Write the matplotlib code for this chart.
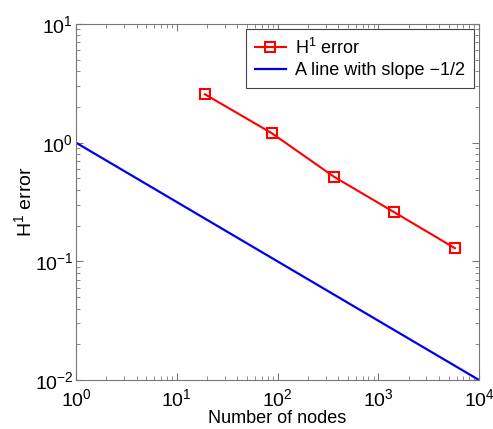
import numpy as np
import matplotlib
matplotlib.use('Agg')
import matplotlib.pyplot as plt

plt.rcParams['font.family'] = ['Liberation Sans', 'DejaVu Sans']
plt.rcParams['mathtext.fontset'] = 'custom'
plt.rcParams['mathtext.rm'] = 'Liberation Sans'

# H1 error data
nodes = [19, 88, 364, 1433, 5770]
h1_err = [2.56, 1.2, 0.516, 0.26, 0.129]

# reference line with slope -1/2
ref_x = [1, 1e4]
ref_y = [1, 1e-2]

fig = plt.figure(figsize=(4.93, 4.29), dpi=100)
ax = fig.add_axes([76 / 493, 1 - 380 / 429, (479 - 76) / 493, (380 - 24) / 429])

ax.loglog(nodes, h1_err, '-s', color='#ff0000', lw=1.5, ms=6.5,
          mfc='none', mec='#ff0000', mew=1.5, label='H$^1$ error')
ax.loglog(ref_x, ref_y, '-', color='#0000ee', lw=1.6,
          label='A line with slope \u22121/2')

ax.set_xlim(1, 1e4)
ax.set_ylim(1e-2, 1e1)
ax.set_xlabel('Number of nodes', fontsize=13, labelpad=0)
ax.set_ylabel('H$^1$ error', fontsize=14, labelpad=-1)

for s in ax.spines.values():
    s.set_color('#777777')
ax.tick_params(which='both', direction='in', top=True, right=True,
               colors='#777777', labelcolor='black', labelsize=14)
ax.tick_params(which='major', length=5)
ax.tick_params(which='minor', length=3)
ax.tick_params(axis='x', pad=6)
ax.tick_params(axis='y', pad=2)

leg = ax.legend(loc='upper right', fontsize=13, fancybox=False,
                framealpha=1, borderaxespad=0.25, handlelength=1.7,
                handletextpad=0.55, labelspacing=0.25, borderpad=0.5)
leg.get_frame().set_edgecolor('#444444')
leg.get_frame().set_linewidth(0.8)

fig.savefig('out.png', dpi=100)
